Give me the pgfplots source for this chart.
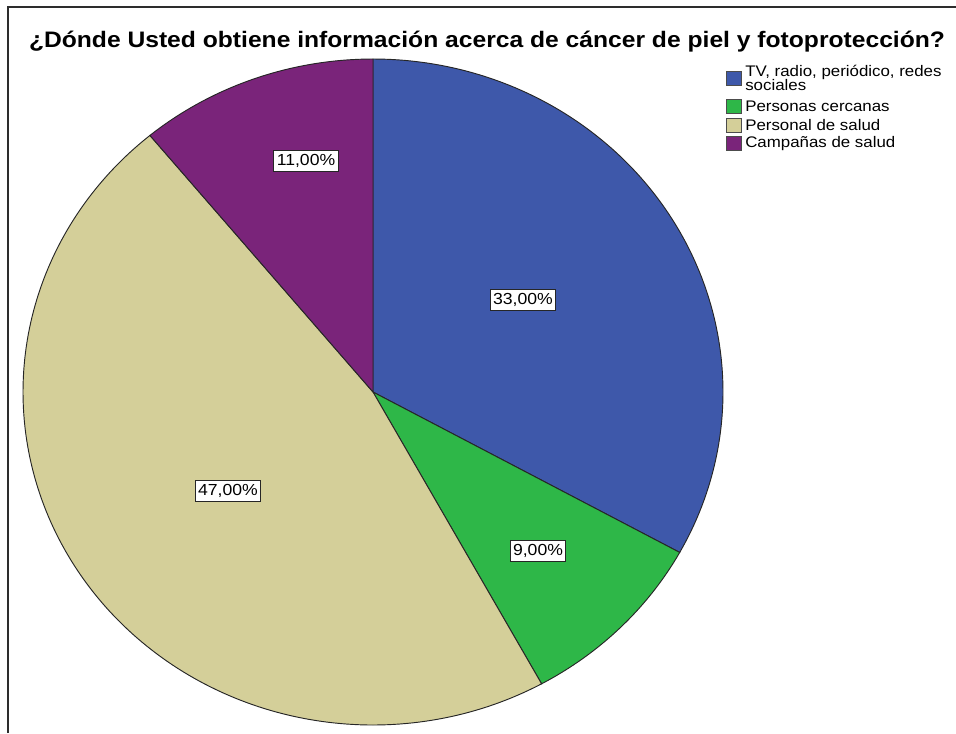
\documentclass[border=0pt]{standalone}
\usepackage{pgfplots}
\pgfplotsset{compat=1.18}
\usepackage{fontspec}
\setmainfont{Liberation Sans}[FakeStretch=1.1]
\definecolor{pieblue}{RGB}{62,88,170}
\definecolor{piegreen}{RGB}{46,183,72}
\definecolor{pietan}{RGB}{212,207,153}
\definecolor{piepurple}{RGB}{122,36,122}
\definecolor{frame}{RGB}{45,45,45}
\begin{document}
\begin{tikzpicture}
\useasboundingbox (0,0) rectangle (717pt,549.75pt);
% data (percent)
\def\valA{33}% TV, radio, periodico, redes sociales
\def\valB{9}%  Personas cercanas
\def\valC{47}% Personal de salud
\def\valD{11}% Campanas de salud
\pgfmathsetmacro{\aA}{90}
\pgfmathsetmacro{\aB}{\aA-3.6*\valA}
\pgfmathsetmacro{\aC}{\aB-3.6*\valB}
\pgfmathsetmacro{\aD}{\aC-3.6*\valC}
\pgfmathsetmacro{\aE}{\aD-3.6*\valD}
\begin{axis}[at={(0,0)}, anchor=south west, scale only axis,
  width=717pt, height=549.75pt,
  xmin=0, xmax=956, ymin=0, ymax=733, y dir=reverse,
  hide axis, clip=false]
\addplot[fill=pieblue, draw=black!85, line width=0.7pt, domain=\aB:\aA, samples=120, variable=\t]
  ({373+350*cos(\t)}, {392-333*sin(\t)}) -- (axis cs:373,392) -- cycle;
\addplot[fill=piegreen, draw=black!85, line width=0.7pt, domain=\aC:\aB, samples=60, variable=\t]
  ({373+350*cos(\t)}, {392-333*sin(\t)}) -- (axis cs:373,392) -- cycle;
\addplot[fill=pietan, draw=black!85, line width=0.7pt, domain=\aD:\aC, samples=160, variable=\t]
  ({373+350*cos(\t)}, {392-333*sin(\t)}) -- (axis cs:373,392) -- cycle;
\addplot[fill=piepurple, draw=black!85, line width=0.7pt, domain=\aE:\aD, samples=60, variable=\t]
  ({373+350*cos(\t)}, {392-333*sin(\t)}) -- (axis cs:373,392) -- cycle;
% value labels
\tikzset{vlab/.style={draw=black!85, fill=white, line width=0.7pt, inner xsep=2.2pt, inner ysep=2.6pt, font=\fontsize{12}{13}\selectfont}}
\node[vlab] at (axis cs:523,300) {33,00\%};
\node[vlab] at (axis cs:538,551) {9,00\%};
\node[vlab] at (axis cs:228,491) {47,00\%};
\node[vlab] at (axis cs:306,161) {11,00\%};
% frame
\draw[frame, line width=2.2pt] (axis cs:8,733) -- (axis cs:8,7) -- (axis cs:956,7);
% title
\node[font=\bfseries\fontsize{16.8}{19}\selectfont] at (axis cs:487,42) {¿Dónde Usted obtiene información acerca de cáncer de piel y fotoprotección?};
% legend
\tikzset{lsq/.style={draw=black!70, line width=0.5pt}, ltx/.style={anchor=west, inner sep=0pt, font=\fontsize{11.5}{12}\selectfont}}
\filldraw[lsq, fill=pieblue] (axis cs:726,71) rectangle (axis cs:741,85);
\filldraw[lsq, fill=piegreen] (axis cs:726,99) rectangle (axis cs:741,113);
\filldraw[lsq, fill=pietan] (axis cs:726,118) rectangle (axis cs:741,132);
\filldraw[lsq, fill=piepurple] (axis cs:726,136) rectangle (axis cs:741,150);
\node[ltx] at (axis cs:745,72) {TV, radio, periódico, redes};
\node[ltx] at (axis cs:745,85) {sociales};
\node[ltx] at (axis cs:745,106) {Personas cercanas};
\node[ltx] at (axis cs:745,125) {Personal de salud};
\node[ltx] at (axis cs:745,144) {Campañas de salud};
\end{axis}
\end{tikzpicture}
\end{document}
